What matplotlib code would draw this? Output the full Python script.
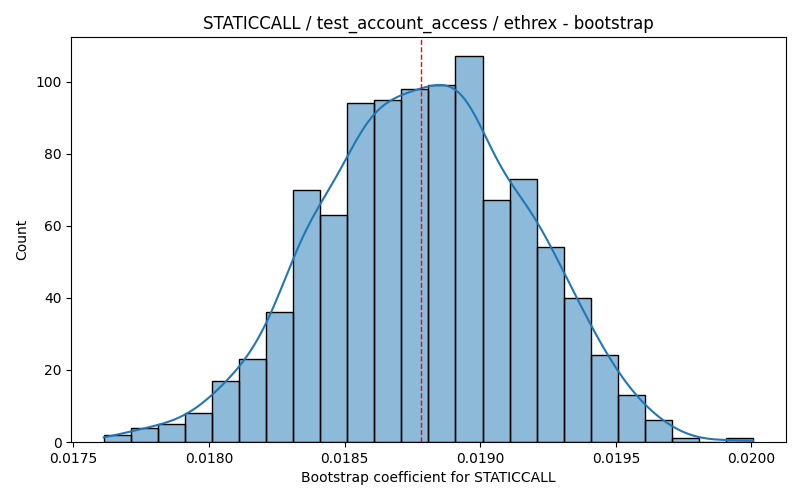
import numpy as np
import matplotlib
matplotlib.use("Agg")
import matplotlib.pyplot as plt

# Data
counts = [2, 4, 5, 8, 17, 23, 36, 70, 63, 94, 95, 98, 99, 107, 67, 73, 54, 40, 24, 13, 6, 1, 0, 1]
data_min = 0.017612
data_max = 0.020006
point_estimate = 0.018781
title = "STATICCALL / test_account_access / ethrex - bootstrap"
xlabel = "Bootstrap coefficient for STATICCALL"
ylabel = "Count"

counts = np.array(counts, dtype=float)
nb = len(counts)
edges = np.linspace(data_min, data_max, nb + 1)
centers = 0.5 * (edges[:-1] + edges[1:])
width = edges[1] - edges[0]

fig = plt.figure(figsize=(8, 5), dpi=100)
ax = fig.add_axes([0.089, 0.116, 0.893, 0.81])

ax.bar(centers, counts, width=width, color="#1f77b4", alpha=0.5, edgecolor="none")
ax.bar(centers, counts, width=width, facecolor="none", edgecolor="black", linewidth=1)

# weighted KDE from binned values
n = counts.sum()
mean = np.sum(counts * centers) / n
var = np.sum(counts * (centers - mean) ** 2) / n
std = np.sqrt(var - width ** 2 / 12)
bw = std * n ** (-1 / 5)
xs = np.linspace(data_min, data_max, 200)
dens = np.sum(counts[None, :] * np.exp(-0.5 * ((xs[:, None] - centers[None, :]) / bw) ** 2), axis=1) / (n * bw * np.sqrt(2 * np.pi))
ax.plot(xs, dens * n * width, color="#1f77b4", linewidth=1.5)

ax.axvline(point_estimate, color="red", linestyle="--", linewidth=1)

ax.set_xlim(data_min - 0.05 * (data_max - data_min), data_max + 0.05 * (data_max - data_min))
ax.set_ylim(0, counts.max() * 1.05)
ax.set_xticks([0.0175, 0.0180, 0.0185, 0.0190, 0.0195, 0.0200])
ax.set_xticklabels(["0.0175", "0.0180", "0.0185", "0.0190", "0.0195", "0.0200"])
ax.set_title(title, fontsize=12)
ax.set_xlabel(xlabel)
ax.set_ylabel(ylabel)

fig.savefig("out.png", dpi=100)
